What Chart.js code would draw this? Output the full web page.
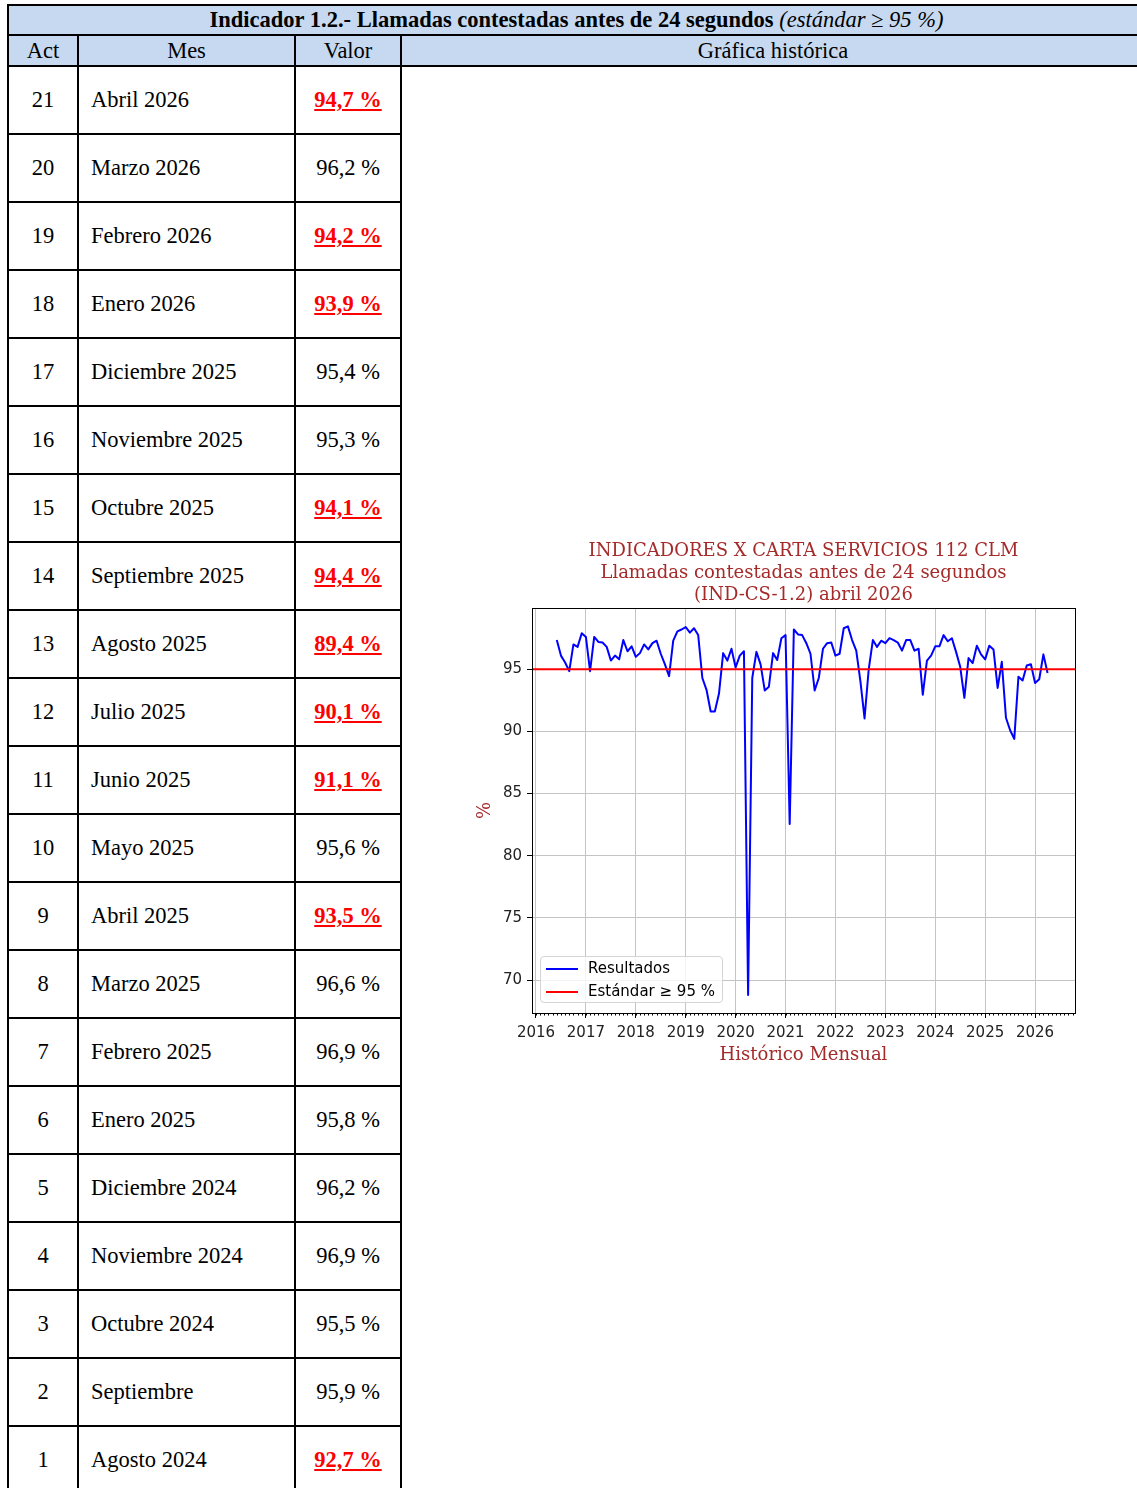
<!DOCTYPE html>
<html lang="es">
<head>
<meta charset="utf-8">
<title>Indicador 1.2 - Llamadas contestadas antes de 24 segundos</title>
<script src="https://cdn.jsdelivr.net/npm/chart.js@4.4.1/dist/chart.umd.min.js"></script>
<style>
  html, body { margin: 0; padding: 0; background: #fff; }
  body { width: 1137px; height: 1488px; overflow: hidden; position: relative; font-family: "Liberation Serif", serif; }
  table { position: absolute; left: 7px; top: 4px; width: 1139px; border-collapse: collapse; table-layout: fixed; }
  td { border: 2px solid #000; padding: 0; font-size: 22.5px; color: #000; }
  tr.cab td { background: #c6d9f1; text-align: center; }
  tr.cab1 { height: 30px; }
  tr.cab2 { height: 31px; }
  tr.fila { height: 68px; }
  td.act { text-align: center; }
  td.mes { padding-left: 12px; }
  td.valor { text-align: center; }
  td.valor.mal { color: #ff0000; font-weight: bold; text-decoration: underline; }
  td.grafica { border-bottom: none; vertical-align: top; }
  #grafico { position: absolute; left: 470px; top: 535px; }
  #leyenda { position: absolute; left: 540px; top: 956px; width: 181px; height: 45px; border: 1px solid #d4d4d4; border-radius: 4px; background: rgba(255,255,255,0.8); font-family: "DejaVu Sans", sans-serif; font-size: 15px; color: #000; }
  #leyenda div { position: absolute; left: 47px; white-space: nowrap; line-height: 18px; }
  #leyenda span { position: absolute; left: 5px; width: 32px; height: 2px; }
</style>
</head>
<body>
<table id="tabla">
  <colgroup><col style="width:70px"><col style="width:217px"><col style="width:106px"><col></colgroup>
  <tr class="cab cab1"><td colspan="4"><b>Indicador 1.2.- Llamadas contestadas antes de 24 segundos</b> <i>(estándar ≥ 95 %)</i></td></tr>
  <tr class="cab cab2"><td>Act</td><td>Mes</td><td>Valor</td><td>Gráfica histórica</td></tr>
</table>
<canvas id="grafico" width="620" height="535"></canvas>
<div id="leyenda">
  <span style="top:11px;background:#0000ff"></span><div style="top:2px">Resultados</div>
  <span style="top:34px;background:#ff0000"></span><div style="top:25px">Estándar ≥ 95 %</div>
</div>
<script>
// serie mensual desde junio 2016
const mesInicio = { anio: 2016, mes: 6 };
const resultados = [
  97.35, 96.1, 95.55, 94.85, 97.0, 96.8, 97.9,
  97.6, 94.85, 97.6, 97.2, 97.15, 96.8, 95.7, 96.1, 95.8, 97.35, 96.45, 96.85,
  96.0, 96.3, 97.0, 96.6, 97.1, 97.3, 96.25, 95.4, 94.45, 97.3, 98.05, 98.2,
  98.4, 97.95, 98.3, 97.75, 94.3, 93.35, 91.6, 91.6, 93.05, 96.3, 95.7, 96.65,
  95.15, 96.1, 96.45, 68.8, 94.3, 96.4, 95.4, 93.3, 93.6, 96.3, 95.75, 97.5,
  97.75, 82.55, 98.2, 97.8, 97.75, 97.1, 96.25, 93.3, 94.3, 96.65, 97.1, 97.15,
  96.1, 96.25, 98.3, 98.45, 97.35, 96.5, 94.05, 91.05, 95.0, 97.35, 96.8, 97.3,
  97.1, 97.5, 97.35, 97.15, 96.5, 97.35, 97.35, 96.5, 96.65, 92.95, 95.7, 96.1,
  96.85, 96.85, 97.75, 97.25, 97.5, 96.4, 95.2, 92.7, 95.9, 95.5, 96.9, 96.2,
  95.8, 96.9, 96.6, 93.5, 95.6, 91.1, 90.1, 89.4, 94.4, 94.1, 95.3, 95.4,
  93.9, 94.2, 96.2, 94.7
];
const estandar = 95;
const ticksAnios = [2016, 2017, 2018, 2019, 2020, 2021, 2022, 2023, 2024, 2025, 2026];
const ticksY = [70, 75, 80, 85, 90, 95];
const limitesX = [2015.92, 2026.8];
const limitesY = [67.35, 99.93];
const tituloGrafico = ["INDICADORES X CARTA SERVICIOS 112 CLM", "Llamadas contestadas antes de 24 segundos", "(IND-CS-1.2) abril 2026"];

// tabla
const tablaAct = [21, 20, 19, 18, 17, 16, 15, 14, 13, 12, 11, 10, 9, 8, 7, 6, 5, 4, 3, 2, 1];
const tablaMes = ["Abril 2026", "Marzo 2026", "Febrero 2026", "Enero 2026", "Diciembre 2025", "Noviembre 2025",
  "Octubre 2025", "Septiembre 2025", "Agosto 2025", "Julio 2025", "Junio 2025", "Mayo 2025", "Abril 2025",
  "Marzo 2025", "Febrero 2025", "Enero 2025", "Diciembre 2024", "Noviembre 2024", "Octubre 2024",
  "Septiembre", "Agosto 2024"];
const tablaValor = [94.7, 96.2, 94.2, 93.9, 95.4, 95.3, 94.1, 94.4, 89.4, 90.1, 91.1, 95.6, 93.5,
  96.6, 96.9, 95.8, 96.2, 96.9, 95.5, 95.9, 92.7];

const tabla = document.getElementById("tabla");
tablaAct.forEach((act, i) => {
  const tr = document.createElement("tr");
  tr.className = "fila";
  const v = tablaValor[i];
  tr.innerHTML = '<td class="act">' + act + '</td><td class="mes">' + tablaMes[i] + '</td>' +
    '<td class="valor' + (v < estandar ? ' mal' : '') + '">' + v.toFixed(1).replace(".", ",") + ' %</td>';
  if (i === 0) {
    const td = document.createElement("td");
    td.className = "grafica";
    td.rowSpan = tablaAct.length;
    tr.appendChild(td);
  }
  tabla.appendChild(tr);
});

// datos del grafico
const puntos = resultados.map((v, i) => ({ x: mesInicio.anio + (mesInicio.mes - 1 + i) / 12, y: v }));
const lineaEstandar = limitesX.map(x => ({ x: x, y: estandar }));

const granate = "#a52a2a";

// titulo centrado sobre el area del grafico, marco y ticks menores
const marco = {
  id: "marco",
  afterDraw(chart) {
    const c = chart.ctx, a = chart.chartArea, sx = chart.scales.x;
    c.save();
    c.fillStyle = granate;
    c.font = "18px 'DejaVu Serif'";
    c.textAlign = "center";
    c.textBaseline = "middle";
    tituloGrafico.forEach((t, i) => c.fillText(t, (a.left + a.right) / 2, 16 + i * 22));

    c.strokeStyle = "#000";
    c.lineWidth = 1;
    c.beginPath();
    for (let m = Math.ceil(limitesX[0] * 12); m <= limitesX[1] * 12; m++) {
      const px = Math.round(sx.getPixelForValue(m / 12)) + 0.5;
      c.moveTo(px, a.bottom);
      c.lineTo(px, a.bottom + 2.5);
    }
    c.stroke();
    c.strokeRect(Math.round(a.left) + 0.5, Math.round(a.top) + 0.5, Math.round(a.right - a.left), Math.round(a.bottom - a.top));
    c.restore();
  }
};

const fuenteTick = { family: "DejaVu Sans", size: 15 };
const fuenteTitulo = { family: "DejaVu Serif", size: 18, weight: "normal" };

new Chart(document.getElementById("grafico"), {
  type: "line",
  data: {
    datasets: [
      { label: "Estándar ≥ 95 %", data: lineaEstandar, borderColor: "#ff0000", borderWidth: 2, pointRadius: 0, order: 0 },
      { label: "Resultados", data: puntos, borderColor: "#0000ff", borderWidth: 2, pointRadius: 0, tension: 0, borderJoinStyle: "round", order: 1 }
    ]
  },
  options: {
    responsive: false,
    animation: false,
    layout: { padding: { left: 0, right: 15, top: 73, bottom: 0 } },
    plugins: {
      legend: { display: false },
      tooltip: { enabled: false },
      title: { display: false }
    },
    scales: {
      x: {
        type: "linear",
        min: limitesX[0],
        max: limitesX[1],
        afterBuildTicks: s => { s.ticks = ticksAnios.map(v => ({ value: v })); },
        afterFit: s => { s.height = 57; },
        ticks: { color: "#222", font: fuenteTick, padding: 6, maxRotation: 0, autoSkip: false, callback: v => String(v) },
        grid: { color: "#c4c4c4", lineWidth: 1, tickColor: "#000", tickLength: 5 },
        border: { color: "#000", width: 1 },
        title: { display: true, text: "Histórico Mensual", color: granate, font: fuenteTitulo, padding: { top: 0, bottom: 4 } }
      },
      y: {
        min: limitesY[0],
        max: limitesY[1],
        afterBuildTicks: s => { s.ticks = ticksY.map(v => ({ value: v })); },
        afterFit: s => { s.width = 62; },
        ticks: { color: "#222", font: fuenteTick, padding: 5, callback: v => String(v) },
        grid: { color: "#c4c4c4", lineWidth: 1, tickColor: "#000", tickLength: 5 },
        border: { color: "#000", width: 1 },
        title: { display: true, text: "%", color: granate, font: fuenteTitulo, padding: { top: 5, bottom: 0 } }
      }
    }
  },
  plugins: [marco]
});
</script>
</body>
</html>
